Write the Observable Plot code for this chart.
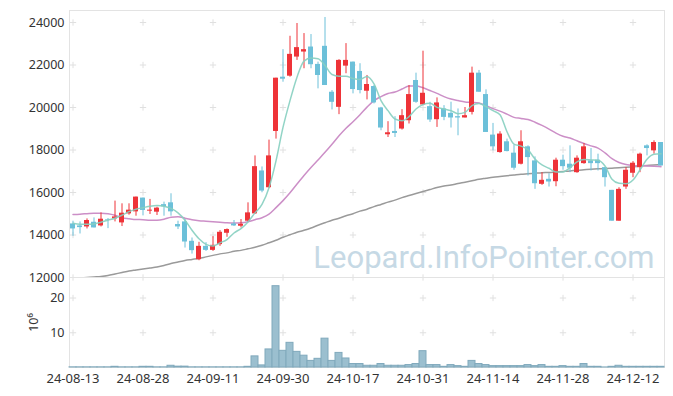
<!DOCTYPE html>
<html>
<head>
<meta charset="utf-8">
<script src="https://cdn.jsdelivr.net/npm/d3@7"></script>
<script src="https://cdn.jsdelivr.net/npm/@observablehq/plot@0.6"></script>
<style>
  html, body { margin: 0; padding: 0; background: #fff; }
  #chart { position: relative; width: 673px; height: 396px; overflow: hidden; }
  #chart svg { position: absolute; left: 0; display: block; overflow: visible; }
</style>
</head>
<body>
<div id="chart"></div>
<script>
// ---- data ----
const dates = [
  "24-08-13","24-08-14","24-08-16","24-08-19","24-08-20","24-08-21","24-08-22","24-08-23","24-08-26","24-08-27",
  "24-08-28","24-08-29","24-08-30","24-09-02","24-09-03","24-09-04","24-09-05","24-09-06","24-09-09","24-09-10",
  "24-09-11","24-09-12","24-09-13","24-09-19","24-09-20","24-09-23","24-09-24","24-09-25","24-09-26","24-09-27",
  "24-09-30","24-10-02","24-10-04","24-10-07","24-10-08","24-10-10","24-10-11","24-10-14","24-10-15","24-10-16",
  "24-10-17","24-10-18","24-10-21","24-10-22","24-10-23","24-10-24","24-10-25","24-10-28","24-10-29","24-10-30",
  "24-10-31","24-11-01","24-11-04","24-11-05","24-11-06","24-11-07","24-11-08","24-11-11","24-11-12","24-11-13",
  "24-11-14","24-11-15","24-11-18","24-11-19","24-11-20","24-11-21","24-11-22","24-11-25","24-11-26","24-11-27",
  "24-11-28","24-11-29","24-12-02","24-12-03","24-12-04","24-12-05","24-12-06","24-12-09","24-12-10","24-12-11",
  "24-12-12","24-12-13","24-12-16","24-12-17","24-12-18"
];
const open = [
  14521,14427,14379,14600,14427,14730,14758,14569,14994,15089,
  15737,15122,15074,15429,15514,14493,14616,13703,12837,13466,
  13277,13547,14081,14521,14412,14649,14994,17014,16224,18873,
  21427,21474,22373,22610,22846,22028,22879,20718,20008,21947,
  22136,21697,20766,20987,19980,18717,18873,18986,19379,21271,
  20121,20041,19426,19932,19725,19568,19507,19771,21616,20609,
  18702,17880,18386,17851,17331,18149,17487,16385,16621,16508,
  17520,17331,16933,17359,17487,17520,17170,16101,14649,16257,
  16905,17170,18196,17960,18353
];
const high = [
  14649,14616,14758,14805,15041,14777,15595,15467,15467,15784,
  15737,15675,15311,15547,15940,14649,14729,13859,13656,13640,
  13925,14207,14285,14682,14729,15514,17723,17203,18466,21380,
  22723,23352,23953,23479,23433,22136,24237,20798,22250,23007,
  22136,22060,21507,21035,20008,19332,19568,19899,21035,21616,
  22650,20245,20453,20088,20250,19932,20000,21900,21744,20831,
  19251,18859,18513,18229,18906,18196,17676,16933,16885,17615,
  17757,18196,17723,18305,18069,17804,17170,16101,16224,17170,
  17454,17851,18244,18433,18353
];
const low = [
  13939,14048,14285,14332,14379,14300,14616,14398,14933,14885,
  14900,14966,14918,14885,14885,14256,13386,13102,12790,13230,
  13230,13466,13892,14398,14332,14616,14966,15987,16196,18513,
  21190,21427,22217,21824,21824,20878,21035,19885,19663,21588,
  20642,20642,20358,20169,18906,18589,18589,18939,19223,20197,
  20088,19300,19063,19379,19034,18670,19507,19648,20718,18826,
  17960,17851,17912,17047,17298,16777,16148,16337,16257,16271,
  17047,16933,16905,17331,17014,17014,16257,14649,14649,16148,
  16697,16933,17723,17804,17250
];
const close = [
  14285,14348,14682,14332,14743,14700,14852,15027,15169,15784,
  15155,15169,15264,15327,15089,14379,13670,13263,13466,13277,
  13514,14128,14256,14427,14507,15041,17217,16068,17723,21380,
  21332,22501,22818,22722,22013,21507,21035,20245,22217,22217,
  20845,20798,21082,20216,19034,18811,18778,19615,20609,20245,
  20670,19411,20216,19535,19507,19507,19615,21616,20718,18826,
  18149,18750,17927,17142,18386,17643,16413,16574,16494,17520,
  17217,17142,17615,18149,17359,17359,16697,14649,16148,17047,
  17378,17804,18069,18353,17250
];
const ma5 = [
  14554,14507,14507,14521,14602,14696,14791,14933,15098,15216,
  15287,15358,15391,15358,15250,15041,14696,14223,13821,13561,
  13480,13632,13783,14095,14304,14616,15041,15439,16224,17487,
  19062,20325,21427,22184,22326,22297,21980,21555,21474,21474,
  21365,21318,21460,21115,20325,19852,19459,19379,19568,19932,
  20136,20197,20008,19932,19852,19710,19771,20088,20183,20041,
  19852,19663,18859,18277,18182,18007,17581,17298,17142,16967,
  16967,17170,17440,17548,17534,17520,17250,16621,16432,16413,
  16588,17061,17567,17804,17818
];
const ma20 = [
  14966,14980,15004,15027,15027,15004,14933,14814,14767,14729,
  14720,14696,14696,14743,14838,14862,14791,14720,14672,14649,
  14625,14602,14578,14568,14578,14625,14720,14814,14980,15287,
  15618,15987,16399,16801,17179,17534,17889,18267,18669,19024,
  19332,19663,20017,20325,20514,20656,20727,20869,21011,21011,
  20926,20798,20665,20514,20396,20325,20263,20244,20207,20088,
  19946,19828,19686,19535,19488,19436,19308,19156,18986,18797,
  18646,18561,18433,18305,18196,18088,17865,17591,17411,17317,
  17274,17260,17250,17236,17217
];
const ma60 = [
  11953,11976,12000,12024,12047,12095,12166,12237,12307,12355,
  12402,12449,12497,12568,12662,12733,12804,12851,12899,12970,
  13041,13112,13159,13230,13277,13348,13419,13514,13632,13750,
  13892,14010,14129,14223,14332,14460,14578,14696,14791,14909,
  15004,15122,15216,15335,15439,15548,15642,15760,15855,15950,
  16044,16139,16233,16304,16352,16423,16484,16550,16621,16669,
  16716,16754,16791,16825,16858,16881,16905,16929,16943,16967,
  16990,17014,17047,17071,17094,17113,17132,17146,17161,17184,
  17212,17240,17269,17297,17321
];
// volume in millions (10^6)
const volume = [
  0.05,0.05,0.05,0.05,0.05,0.05,0.2,0.05,0.05,0.05,
  0.2,0.2,0.05,0.05,0.5,0.25,0.25,0.05,0.05,0.05,
  0.05,0.05,0.05,0.05,0.05,0.2,3.2,0.6,5.2,23.4,
  4.8,7.1,4.5,3.4,1.9,2.5,8.3,1.9,4.2,2.6,
  1.0,1.0,0.5,0.5,1.0,0.5,0.5,0.5,0.7,1.0,
  4.7,0.7,0.7,0.2,0.7,0.4,0.2,1.9,1.0,0.7,
  0.4,0.4,0.4,0.4,0.4,0.7,0.4,0.7,0.2,0.2,
  0.4,0.2,0.2,1.0,0.2,0.2,0.02,0.2,0.5,0.2,
  0.2,0.2,0.2,0.2,0.2
];
const tickDates = ["24-08-13","24-08-28","24-09-11","24-09-30","24-10-17","24-10-31","24-11-14","24-11-28","24-12-12"];
const priceTicks = [12000,14000,16000,18000,20000,22000,24000];
const volumeTicks = [10,20];
const watermark = "Leopard.InfoPointer.com";

// ---- build table ----
const rows = dates.map((d, i) => ({
  date: d, open: open[i], high: high[i], low: low[i], close: close[i],
  ma5: ma5[i], ma20: ma20[i], ma60: ma60[i], volume: volume[i],
  up: close[i] >= open[i]
}));

const UP = "#ee3338", DOWN = "#6cc0d9";
const font = "'Noto Sans', 'DejaVu Sans', sans-serif";
const W = 673, ML = 69, MR = 9;
const CROSS = "#e0e0e0";

const xScale = {type: "band", domain: dates, padding: 0};

const priceCross = d3.cross(tickDates, priceTicks).map(([d, v]) => ({date: d, v}));
const volCross = d3.cross(tickDates, volumeTicks).map(([d, v]) => ({date: d, v}));

const pricePlot = Plot.plot({
  width: W, height: 278,
  marginLeft: ML, marginRight: MR, marginTop: 10, marginBottom: 1,
  style: {fontFamily: font, fontSize: "12.5px", color: "#333", background: "transparent", overflow: "visible"},
  x: {...xScale, axis: null},
  y: {domain: [12000, 24565], axis: null},
  marks: [
    Plot.frame({stroke: "#e3e3e3"}),
    Plot.dot(priceCross, {x: "date", y: "v", symbol: "plus", r: 2.2, stroke: CROSS, strokeWidth: 1}),
    Plot.text([watermark], {frameAnchor: "bottom-right", textAnchor: "end", lineAnchor: "bottom", dx: -10, dy: -10,
      fontSize: 31, fontFamily: "Roboto, sans-serif", fill: "#c6d9e5"}),
    Plot.line(rows, {x: "date", y: "ma60", stroke: "#9a9a9a", strokeWidth: 1.5, curve: "monotone-x", clip: true}),
    Plot.line(rows, {x: "date", y: "ma20", stroke: "#cc8fc7", strokeWidth: 1.5, curve: "monotone-x", clip: true}),
    Plot.ruleX(rows, {x: "date", y1: "low", y2: "high", stroke: d => d.up ? UP : DOWN, strokeWidth: 1}),
    Plot.barY(rows, {x: "date", y1: "open", y2: "close", fill: d => d.up ? UP : DOWN, insetLeft: 1, insetRight: 1}),
    Plot.line(rows, {x: "date", y: "ma5", stroke: "#86cfc0", strokeWidth: 1.5, curve: "monotone-x", clip: true, strokeOpacity: 0.9}),
    Plot.axisY(priceTicks, {tickSize: 0, tickPadding: 5, label: null, tickFormat: d3.format("d")})
  ]
});
pricePlot.style.top = "0px";

const volumePlot = Plot.plot({
  width: W, height: 119,
  marginLeft: ML, marginRight: MR, marginTop: 0, marginBottom: 29,
  style: {fontFamily: font, fontSize: "12.5px", color: "#333", background: "transparent", overflow: "visible"},
  x: {...xScale},
  y: {domain: [0, 25.9]},
  marks: [
    Plot.frame({stroke: "#e3e3e3"}),
    Plot.dot(volCross, {x: "date", y: "v", symbol: "plus", r: 2.2, stroke: CROSS, strokeWidth: 1}),
    Plot.barY(rows, {x: "date", y: "volume", fill: "#9bbfcf", stroke: "#80a9bc", strokeWidth: 1}),
    Plot.axisY(volumeTicks, {tickSize: 0, tickPadding: 5, label: "10⁶", labelAnchor: "center", labelArrow: "none", labelOffset: 40}),
    Plot.axisX(tickDates, {tickSize: 0, tickPadding: 6, label: null, fontSize: 13})
  ]
});
volumePlot.style.top = "277px";

const chart = document.getElementById("chart");
chart.appendChild(pricePlot);
chart.appendChild(volumePlot);
</script>
</body>
</html>
